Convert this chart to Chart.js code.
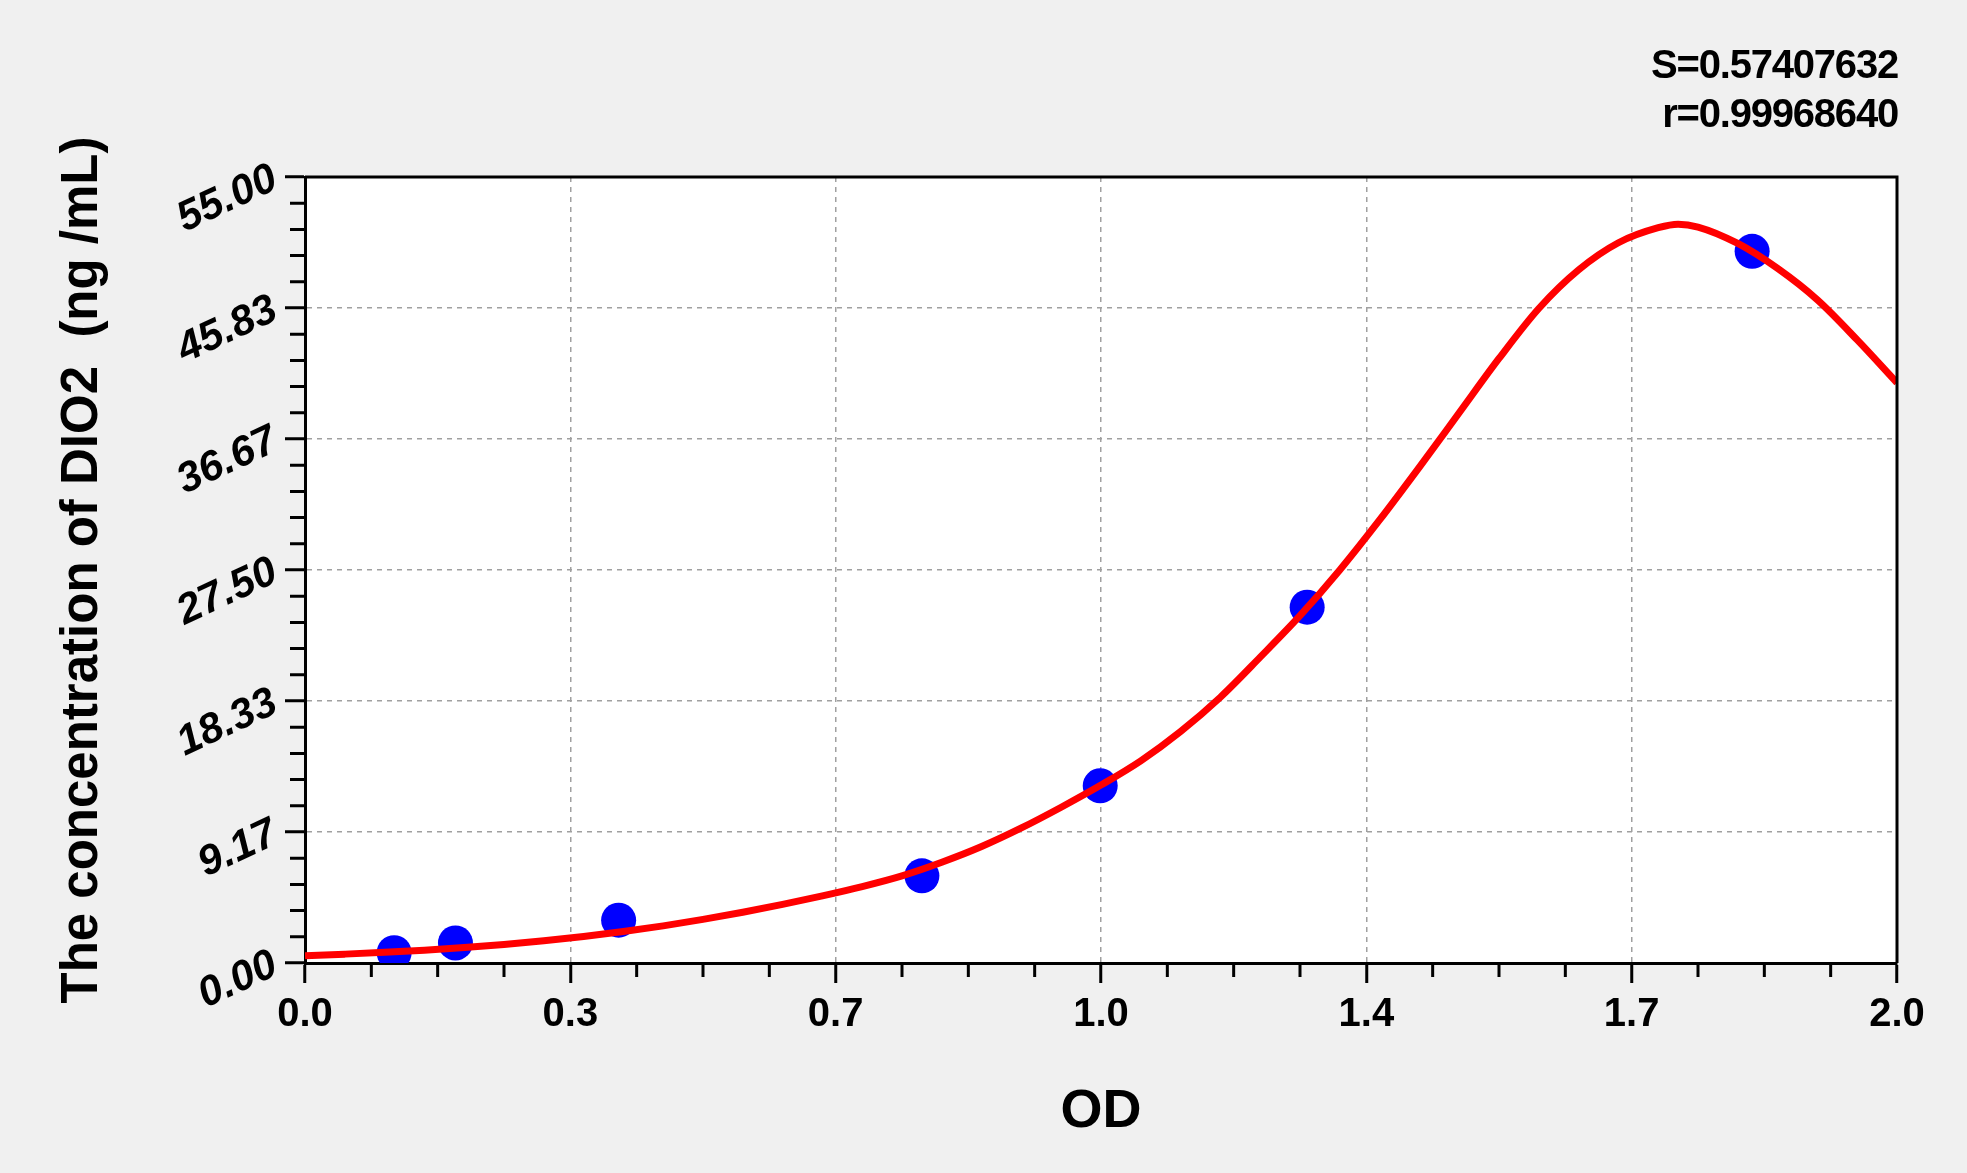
<!DOCTYPE html>
<html>
<head>
<meta charset="utf-8">
<script src="https://cdn.jsdelivr.net/npm/chart.js@4.4.0/dist/chart.umd.min.js"></script>
<style>
  html, body { margin: 0; padding: 0; background: #f0f0f0; }
  #wrap { width: 1967px; height: 1173px; position: relative; }
  canvas { display: block; }
</style>
</head>
<body>
<div id="wrap"><canvas id="c" width="1967" height="1173"></canvas></div>
<script>
// ---- data ----
const xTickValues = [0, 1/3, 2/3, 1, 4/3, 5/3, 2];
const xTickLabels = ["0.0", "0.3", "0.7", "1.0", "1.4", "1.7", "2.0"];
const yTickValues = [0, 55/6, 110/6, 27.5, 220/6, 275/6, 55];
const yTickLabels = ["0.00", "9.17", "18.33", "27.50", "36.67", "45.83", "55.00"];

const stdOD   = [0.112, 0.189, 0.394, 0.775, 0.999, 1.259, 1.818];
const stdConc = [0.72, 1.40, 3.00, 6.10, 12.4, 24.9, 49.8];

const curveOD   = [0, 0.05, 0.10, 0.15, 0.20, 0.25, 0.30, 0.35, 0.40, 0.45, 0.50, 0.55, 0.60, 0.65, 0.70, 0.75, 0.80, 0.85, 0.90, 0.95, 1.00, 1.05, 1.10, 1.15, 1.20, 1.25, 1.30, 1.35, 1.40, 1.45, 1.50, 1.55, 1.60, 1.65, 1.70, 1.725, 1.75, 1.80, 1.85, 1.90, 1.95, 2.00];
const curveConc = [0.5, 0.62, 0.75, 0.9, 1.08, 1.3, 1.55, 1.85, 2.2, 2.6, 3.05, 3.55, 4.1, 4.7, 5.35, 6.1, 7.05, 8.15, 9.45, 10.9, 12.45, 14.15, 16.2, 18.6, 21.4, 24.3, 27.5, 31.0, 34.7, 38.5, 42.3, 45.8, 48.5, 50.4, 51.45, 51.7, 51.5, 50.35, 48.6, 46.4, 43.6, 40.6];

const statLines = ["S=0.57407632", "r=0.99968640"];
const xTitle = "OD";
const yTitle = "The concentration of DIO2  (ng /mL)";

// ---- chart ----
const FONT = '"Liberation Sans", Arial, sans-serif';
Chart.defaults.font.family = FONT;
Chart.defaults.color = '#000';

const decor = {
  id: 'decor',
  beforeDraw(chart) {
    const {ctx, chartArea: a} = chart;
    ctx.save();
    ctx.fillStyle = '#f0f0f0';
    ctx.fillRect(0, 0, chart.width, chart.height);
    ctx.fillStyle = '#ffffff';
    ctx.fillRect(a.left, a.top, a.right - a.left, a.bottom - a.top);
    ctx.restore();
  },
  afterDraw(chart) {
    const {ctx, chartArea: a, scales: {x, y}} = chart;
    ctx.save();
    ctx.strokeStyle = '#000';
    ctx.lineWidth = 3;
    // top and right frame
    ctx.beginPath();
    ctx.moveTo(a.left, a.top);
    ctx.lineTo(a.right, a.top);
    ctx.lineTo(a.right, a.bottom);
    ctx.stroke();
    // minor ticks
    ctx.beginPath();
    for (let k = 0; k <= 24; k++) {
      if (k % 4 === 0) continue;
      const px = x.getPixelForValue(k / 12);
      ctx.moveTo(px, a.bottom);
      ctx.lineTo(px, a.bottom + 14);
    }
    for (let k = 0; k <= 30; k++) {
      if (k % 5 === 0) continue;
      const py = y.getPixelForValue(k * 55 / 30);
      ctx.moveTo(a.left - 15, py);
      ctx.lineTo(a.left, py);
    }
    ctx.stroke();
    // statistics text
    ctx.fillStyle = '#000';
    ctx.font = 'bold 40px ' + FONT;
    ctx.textAlign = 'right';
    ctx.textBaseline = 'alphabetic';
    try { ctx.letterSpacing = '-1.2px'; } catch (e) {}
    ctx.fillText(statLines[0], 1898, 78);
    ctx.fillText(statLines[1], 1898, 127);
    ctx.restore();
  }
};

new Chart(document.getElementById('c'), {
  type: 'scatter',
  data: {
    datasets: [
      {
        label: 'fit',
        data: curveOD.map((v, i) => ({x: v, y: curveConc[i]})),
        showLine: true,
        borderColor: '#ff0000',
        borderWidth: 7,
        pointRadius: 0,
        cubicInterpolationMode: 'monotone',
        fill: false,
        order: 0
      },
      {
        label: 'standards',
        data: stdOD.map((v, i) => ({x: v, y: stdConc[i]})),
        showLine: false,
        backgroundColor: '#0000ff',
        borderColor: '#0000ff',
        borderWidth: 0,
        pointRadius: 17.5,
        order: 1
      }
    ]
  },
  options: {
    responsive: false,
    animation: false,
    devicePixelRatio: 1,
    layout: { padding: { top: 177, right: 70, left: 0, bottom: 0 } },
    plugins: { legend: { display: false }, tooltip: { enabled: false } },
    scales: {
      x: {
        type: 'linear',
        position: 'bottom',
        min: 0, max: 2,
        afterBuildTicks: s => { s.ticks = xTickValues.map(v => ({value: v})); },
        afterFit: s => { s.height = 210; },
        ticks: {
          autoSkip: false, maxRotation: 0, minRotation: 0,
          padding: 8,
          color: '#000',
          font: { size: 40, weight: 'bold' },
          callback: (v, i) => xTickLabels[i]
        },
        grid: { color: '#a0a0a0', lineWidth: 1.5, tickLength: 20, tickColor: '#000', tickWidth: 3 },
        border: { display: true, color: '#000', width: 3, dash: [5, 5] },
        title: { display: true, text: xTitle, color: '#000', font: { size: 54, weight: 'bold' }, padding: { top: 0, bottom: 28 } }
      },
      y: {
        type: 'linear',
        position: 'left',
        min: 0, max: 55,
        afterBuildTicks: s => { s.ticks = yTickValues.map(v => ({value: v})); },
        afterFit: s => { s.width = 305; },
        ticks: {
          autoSkip: false, minRotation: 25, maxRotation: 25,
          padding: 10,
          color: '#000',
          font: { size: 42, weight: 'bold', style: 'italic' },
          callback: (v, i) => yTickLabels[i]
        },
        grid: { color: '#a0a0a0', lineWidth: 1.5, tickLength: 20, tickColor: '#000', tickWidth: 3 },
        border: { display: true, color: '#000', width: 3, dash: [5, 5] },
        title: { display: true, text: yTitle, color: '#000', font: { size: 51, weight: 'bold' }, padding: { top: 52, bottom: 0 } }
      }
    }
  },
  plugins: [decor]
});
</script>
</body>
</html>
